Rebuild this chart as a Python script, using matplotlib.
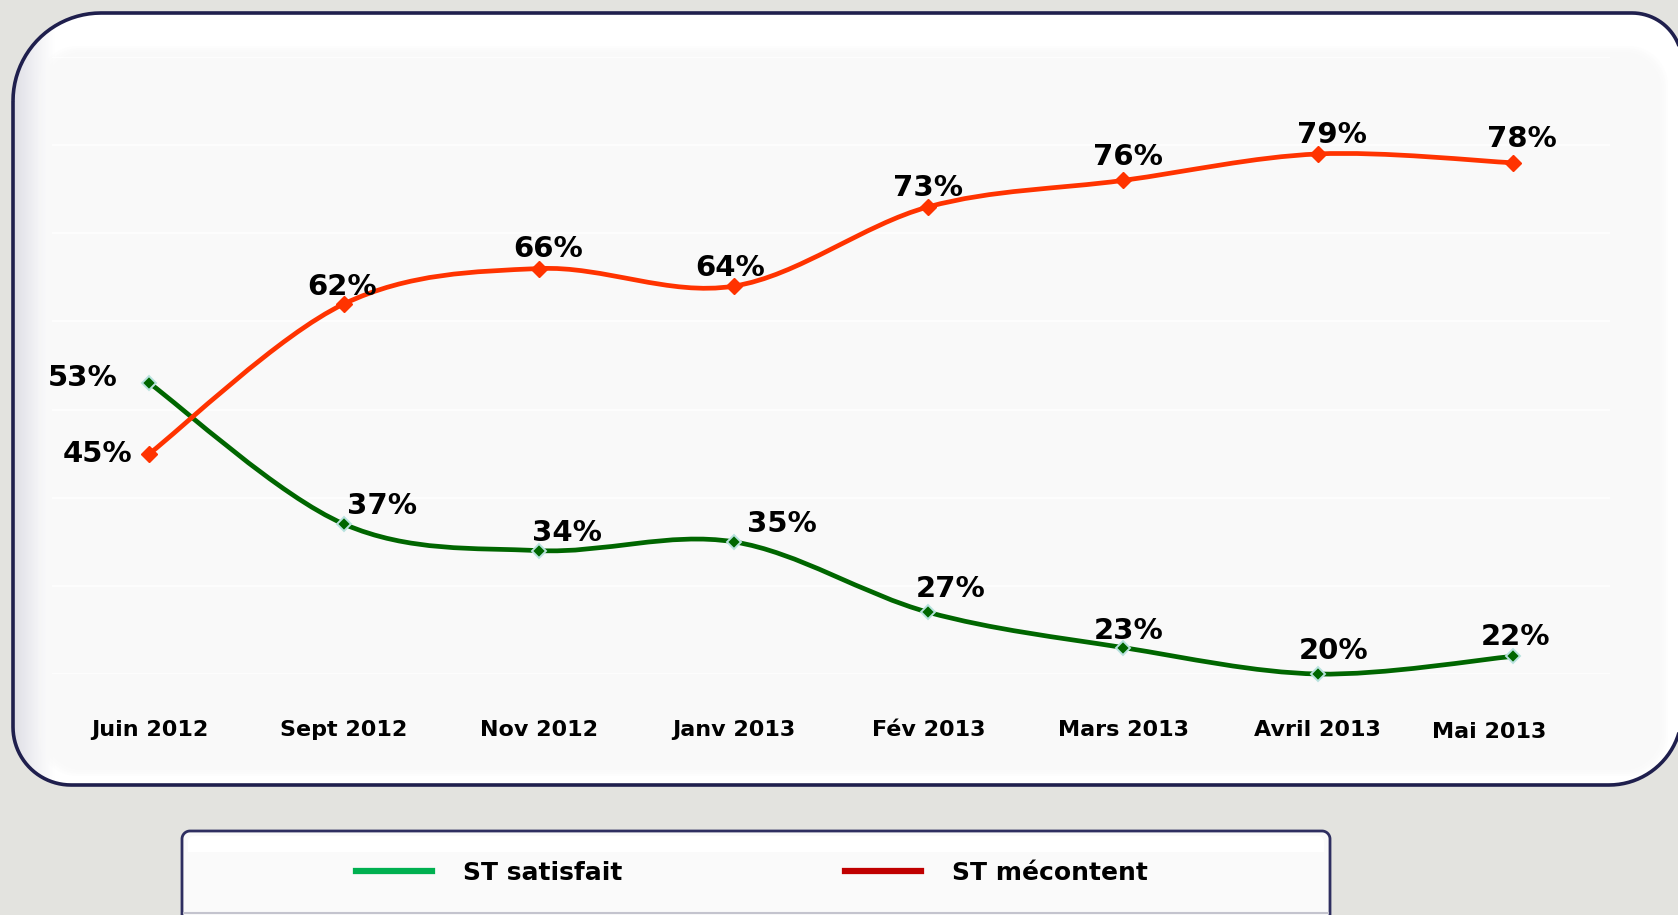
import numpy as np
import matplotlib
matplotlib.use('Agg')
import matplotlib.pyplot as plt
from matplotlib.path import Path
from matplotlib.patches import PathPatch
from matplotlib.lines import Line2D
from matplotlib.transforms import ScaledTranslation

# data
months = ['Juin 2012', 'Sept 2012', 'Nov 2012', 'Janv 2013', 'Fév 2013',
          'Mars 2013', 'Avril 2013', 'Mai 2013']
satisfait = [53, 37, 34, 35, 27, 23, 20, 22]
mecontent = [45, 62, 66, 64, 73, 76, 79, 78]
series_names = ['ST satisfait', 'ST mécontent']

W, H = 1678, 915


def rounded_box(x0, y0, x1, y1, r_tl, r_tr, r_br, r_bl):
    # outline in pixel coords, y pointing down
    def arc(cx, cy, r, a0, a1):
        t = np.radians(np.linspace(a0, a1, 24))
        return np.column_stack([cx + r * np.cos(t), cy + r * np.sin(t)])
    pts = np.vstack([
        arc(x0 + r_tl, y0 + r_tl, r_tl, 180, 270),
        arc(x1 - r_tr, y0 + r_tr, r_tr, 270, 360),
        arc(x1 - r_br, y1 - r_br, r_br, 0, 90),
        arc(x0 + r_bl, y1 - r_bl, r_bl, 90, 180),
    ])
    pts = np.vstack([pts, pts[:1]])
    codes = [Path.MOVETO] + [Path.LINETO] * (len(pts) - 2) + [Path.CLOSEPOLY]
    return Path(pts, codes)


def smooth_path(xs, ys):
    # excel-like smoothed line (catmull-rom as cubic bezier)
    p = np.column_stack([xs, ys]).astype(float)
    n = len(p)
    verts = [p[0]]
    codes = [Path.MOVETO]
    for i in range(n - 1):
        p0 = p[i - 1] if i > 0 else p[i]
        p3 = p[i + 2] if i + 2 < n else p[i + 1]
        c1 = p[i] + (p[i + 1] - p0) / 6
        c2 = p[i + 1] - (p3 - p[i]) / 6
        verts += [c1, c2, p[i + 1]]
        codes += [Path.CURVE4] * 3
    return Path(verts, codes)


fig = plt.figure(figsize=(W / 100, H / 100), dpi=100)
fig.patch.set_facecolor('#e3e3df')

# background frames
bg = fig.add_axes([0, 0, 1, 1])
bg.set_xlim(0, W)
bg.set_ylim(H, 0)
bg.axis('off')

box = PathPatch(rounded_box(13, 13, 1682, 785, 88, 50, 73, 58),
                facecolor='white', edgecolor='none', zorder=1)
bg.add_patch(box)
# soft grey shading along the left side of the box
grad = np.linspace(0, 1, 64)[None, :] ** 0.8
shade = (np.array([0.86, 0.86, 0.89])[None, None, :] * (1 - grad[..., None])
         + np.array([1, 1, 1])[None, None, :] * grad[..., None])
im = bg.imshow(shade, extent=(13, 55, 785, 13), aspect='auto', zorder=2,
               interpolation='bilinear')
im.set_clip_path(box)
# inner panel
for i in range(8):
    inner = PathPatch(rounded_box(38 + i * 2, 46 + i * 2, 1668 - i * 2, 776 - i * 2,
                                  40, 40, 40, 40),
                      facecolor='#f9f9f9', edgecolor='none', alpha=0.3, zorder=3)
    bg.add_patch(inner)
bg.add_patch(PathPatch(rounded_box(13, 13, 1682, 785, 88, 50, 73, 58),
                       facecolor='none', edgecolor='#1f1f4d', lw=2.6, zorder=4))

# legend frame
bg.add_patch(PathPatch(rounded_box(182, 831, 1330, 935, 8, 8, 4, 4),
                       facecolor='#fafafa', edgecolor='#2e2e60', lw=2, zorder=1))
bg.add_patch(PathPatch(rounded_box(188, 836, 1324, 852, 6, 6, 0, 0),
                       facecolor='white', edgecolor='none', zorder=2))
bg.plot([184, 1328], [913, 913], color='#c4c4ce', lw=1.5, zorder=2)

# chart
ax = fig.add_axes([52 / W, 1 - 674 / H, (1610 - 52) / W, (674 - 57) / H])
ax.set_facecolor('none')
ax.set_xlim(-0.5, 7.5)
ax.set_ylim(20, 90)
ax.set_yticks(range(20, 91, 10))
ax.grid(axis='y', color='white', lw=1.2)
ax.set_axisbelow(True)
for s in ax.spines.values():
    s.set_visible(False)
ax.tick_params(axis='y', length=0, labelleft=False)
x = np.arange(len(months))
ax.set_xticks(x)
ax.set_xticklabels(months, fontsize=16, fontweight='bold')
ax.tick_params(axis='x', length=0, pad=33)
last = ax.get_xticklabels()[-1]
last.set_transform(last.get_transform() + ScaledTranslation(-0.23, -0.02, fig.dpi_scale_trans))

green = '#006600'
red = '#ff3300'
ax.add_patch(PathPatch(smooth_path(x, satisfait), fill=False, edgecolor=green,
                       lw=3.4, capstyle='round', clip_on=False, zorder=3))
ax.plot(x, satisfait, ls='none', marker='D', ms=7.5, mfc=green, mec='#b8e2de',
        mew=1.4, clip_on=False, zorder=4)
ax.add_patch(PathPatch(smooth_path(x, mecontent), fill=False, edgecolor=red,
                       lw=3.4, capstyle='round', clip_on=False, zorder=5))
ax.plot(x, mecontent, ls='none', marker='D', ms=8.5, mfc=red, mec=red,
        mew=1, clip_on=False, zorder=6)

# label offsets in pixels (dx, dy) relative to each point
green_off = [(-32, 5), (38, 18), (28, 18), (48, 18), (22, 23), (5, 17), (16, 23), (3, 19)]
red_off = [(-17, 0), (-2, 17), (9, 20), (-3, 18), (0, 19), (5, 23), (14, 19), (9, 24)]
for vals, offs in [(satisfait, green_off), (mecontent, red_off)]:
    for i, v in enumerate(vals):
        dx, dy = offs[i]
        ax.annotate(f'{v}%', (x[i], v), xytext=(dx, dy), textcoords='offset pixels',
                    ha='right' if i == 0 else 'center', va='center',
                    fontsize=21, fontweight='bold', color='black',
                    annotation_clip=False, zorder=7)

handles = [Line2D([], [], color='#00b050', lw=4.5),
           Line2D([], [], color='#c00000', lw=4.5)]
fig.legend(handles, series_names, loc='center', bbox_to_anchor=(752 / W, 1 - 873 / H),
           ncol=2, frameon=False, prop=dict(weight='bold', size=18),
           handlelength=3.04, handletextpad=1.24, columnspacing=8.9)

fig.savefig('out.png', dpi=100, facecolor=fig.get_facecolor())
